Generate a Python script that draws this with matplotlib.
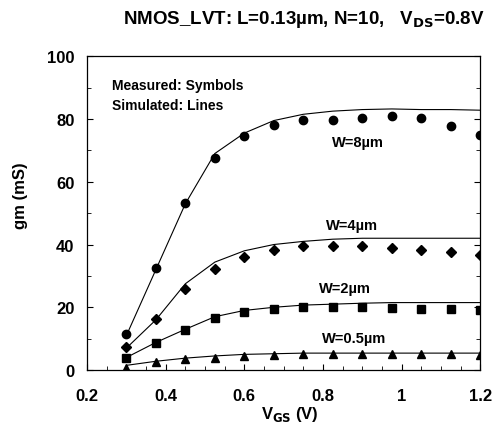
import matplotlib
matplotlib.use("Agg")
import matplotlib.pyplot as plt
from matplotlib.ticker import MultipleLocator

plt.rcParams['font.family'] = ['Liberation Sans', 'DejaVu Sans']
plt.rcParams['font.weight'] = 'bold'

vgs = [0.3, 0.375, 0.45, 0.525, 0.6, 0.675, 0.75, 0.825, 0.9, 0.975, 1.05, 1.125, 1.2]

meas_w8 = [11.5, 32.5, 53.2, 67.5, 74.5, 78.0, 79.6, 79.6, 80.3, 81.0, 80.3, 77.8, 75.0]
meas_w4 = [7.3, 16.2, 25.8, 32.2, 36.0, 38.2, 39.4, 39.4, 39.4, 38.8, 38.2, 37.5, 36.6]
meas_w2 = [3.8, 8.6, 12.8, 16.5, 18.4, 19.6, 20.2, 20.2, 20.2, 19.7, 19.5, 19.5, 19.1]
meas_w05 = [0.6, 2.5, 3.5, 3.8, 4.6, 4.8, 5.0, 5.0, 5.0, 5.0, 5.0, 5.0, 4.8]

sim_w8 = [11.0, 32.0, 53.0, 69.0, 75.5, 79.5, 81.5, 82.5, 83.0, 83.2, 83.0, 83.0, 82.8]
sim_w4 = [7.0, 16.0, 27.5, 34.4, 38.0, 40.0, 41.0, 41.7, 42.0, 42.0, 42.0, 42.0, 42.0]
sim_w2 = [4.0, 8.8, 13.0, 17.0, 19.0, 20.0, 20.7, 21.0, 21.3, 21.5, 21.5, 21.5, 21.5]
sim_w05 = [1.5, 2.8, 3.8, 4.5, 5.0, 5.2, 5.4, 5.4, 5.4, 5.4, 5.4, 5.4, 5.4]

labels = ["W=8\u00b5m", "W=4\u00b5m", "W=2\u00b5m", "W=0.5\u00b5m"]

fig = plt.figure(figsize=(4.92, 4.27), dpi=100)
ax = fig.add_axes([0.177, 0.131, 0.799, 0.735])

for sim in [sim_w8, sim_w4, sim_w2, sim_w05]:
    ax.plot(vgs, sim, color='black', lw=0.8)

ax.plot(vgs, meas_w8, 'o', color='black', ms=6, ls='none')
ax.plot(vgs, meas_w4, 'D', color='black', ms=5, ls='none')
ax.plot(vgs, meas_w2, 's', color='black', ms=5.5, ls='none')
ax.plot(vgs, meas_w05, '^', color='black', ms=6, ls='none')

ax.set_xlim(0.2, 1.2)
ax.set_ylim(0, 100)
ax.xaxis.set_minor_locator(MultipleLocator(0.05))
ax.yaxis.set_major_locator(MultipleLocator(20))
ax.yaxis.set_minor_locator(MultipleLocator(10))
ax.set_xticks([0.2, 0.4, 0.6, 0.8, 1.0, 1.2])
ax.set_xticklabels(['0.2', '0.4', '0.6', '0.8', '1', '1.2'])
ax.tick_params(which='both', direction='in', top=False, right=True, labelsize=12)
ax.tick_params(axis='x', which='major', pad=13)
ax.tick_params(axis='y', which='major', pad=9)
ax.tick_params(which='major', length=4)
ax.tick_params(which='minor', length=3)
for lab in ax.get_xticklabels() + ax.get_yticklabels():
    lab.set_fontweight('bold')
for s in ax.spines.values():
    s.set_linewidth(0.9)

ax.set_ylabel('gm (mS)', fontsize=12, fontweight='bold')
ax.yaxis.set_label_coords(-0.15, 0.56)
ax.set_xlabel('V$_{\\mathbf{GS}}$ (V)', fontsize=12, fontweight='bold', va='center')
ax.xaxis.set_label_coords(0.517, -0.137)

ax.text(0.89, 72.6, labels[0], ha='center', va='center', fontsize=10.5, fontweight='bold')
ax.text(0.874, 46.2, labels[1], ha='center', va='center', fontsize=10.5, fontweight='bold')
ax.text(0.857, 26.0, labels[2], ha='center', va='center', fontsize=10.5, fontweight='bold')
ax.text(0.878, 10.2, labels[3], ha='center', va='center', fontsize=10.5, fontweight='bold')

ax.text(0.264, 90.8, 'Measured: Symbols', ha='left', va='center', fontsize=10, fontweight='bold')
ax.text(0.264, 84.4, 'Simulated: Lines', ha='left', va='center', fontsize=10, fontweight='bold')

fig.text(0.985, 0.954, 'NMOS_LVT: L=0.13\u00b5m, N=10,   V$_{\\mathbf{DS}}$=0.8V',
         ha='right', va='center', fontsize=13.5, fontweight='bold')

fig.savefig('out.png', dpi=100)
